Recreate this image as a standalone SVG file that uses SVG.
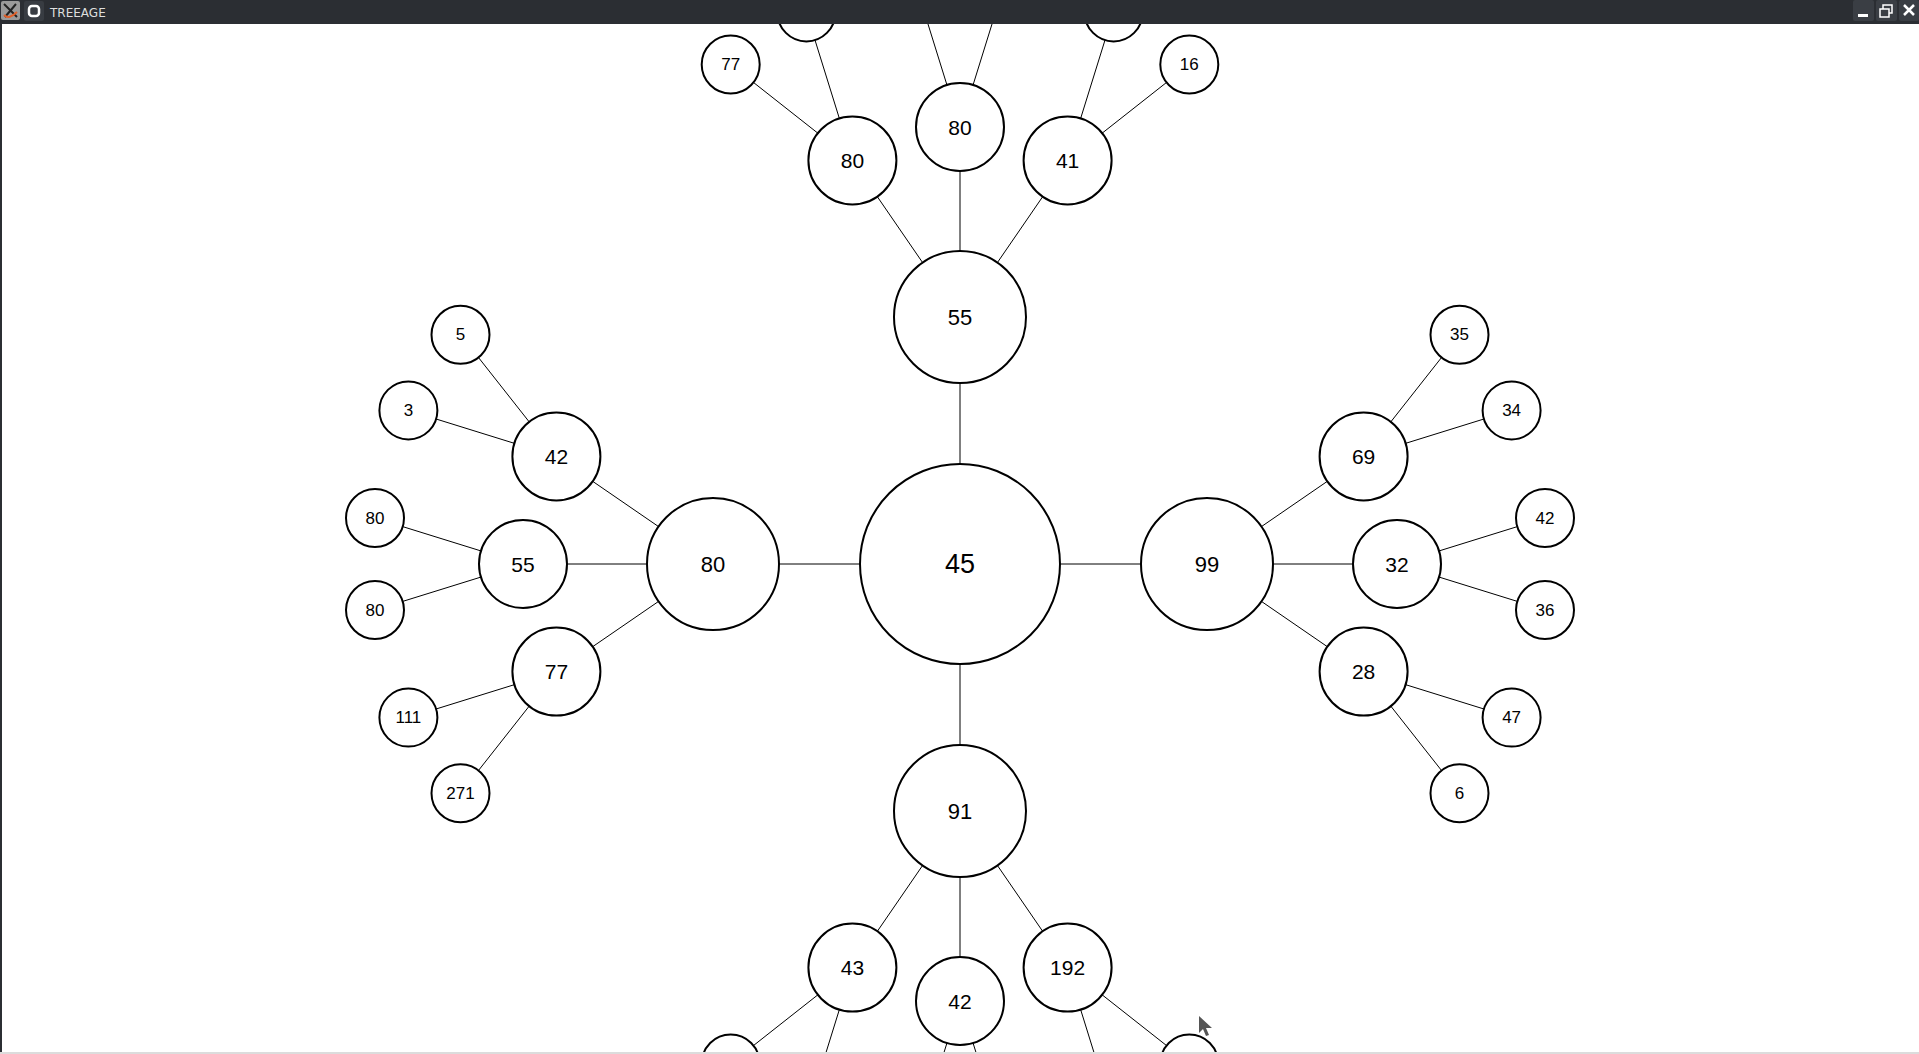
<svg xmlns="http://www.w3.org/2000/svg" width="1919" height="1054" viewBox="0 0 1919 1054">
<style>
.n circle{fill:#fff;stroke:#000;stroke-width:2}
.n text{font-family:"Liberation Sans",Arial,sans-serif;fill:#000;text-anchor:middle;dominant-baseline:central}
.r0 text{font-size:27px}
.r1 text{font-size:22px}
.r2 text{font-size:21px}
.r3 text{font-size:17px}
#edges line{stroke:#000;stroke-width:1}
.btn{fill:#3a3e44}
</style>
<rect x="0" y="0" width="1919" height="1054" fill="#fff"/>
<g id="edges">
<line x1="960" y1="564" x2="960" y2="317"/>
<line x1="960" y1="564" x2="713" y2="564"/>
<line x1="960" y1="564" x2="1207" y2="564"/>
<line x1="960" y1="564" x2="960" y2="811"/>
<line x1="960" y1="317" x2="852.4" y2="160.4"/>
<line x1="960" y1="317" x2="960" y2="127"/>
<line x1="960" y1="317" x2="1067.6" y2="160.4"/>
<line x1="852.4" y1="160.4" x2="730.7" y2="64.5"/>
<line x1="852.4" y1="160.4" x2="806.4" y2="12.4"/>
<line x1="960" y1="127" x2="914" y2="-21"/>
<line x1="960" y1="127" x2="1006" y2="-21"/>
<line x1="1067.6" y1="160.4" x2="1113.6" y2="12.4"/>
<line x1="1067.6" y1="160.4" x2="1189.3" y2="64.5"/>
<line x1="713" y1="564" x2="556.4" y2="456.4"/>
<line x1="713" y1="564" x2="523" y2="564"/>
<line x1="713" y1="564" x2="556.4" y2="671.6"/>
<line x1="556.4" y1="456.4" x2="460.5" y2="334.7"/>
<line x1="556.4" y1="456.4" x2="408.4" y2="410.4"/>
<line x1="523" y1="564" x2="375" y2="518"/>
<line x1="523" y1="564" x2="375" y2="610"/>
<line x1="556.4" y1="671.6" x2="408.4" y2="717.6"/>
<line x1="556.4" y1="671.6" x2="460.5" y2="793.3"/>
<line x1="1207" y1="564" x2="1363.6" y2="456.4"/>
<line x1="1207" y1="564" x2="1397" y2="564"/>
<line x1="1207" y1="564" x2="1363.6" y2="671.6"/>
<line x1="1363.6" y1="456.4" x2="1459.5" y2="334.7"/>
<line x1="1363.6" y1="456.4" x2="1511.6" y2="410.4"/>
<line x1="1397" y1="564" x2="1545" y2="518"/>
<line x1="1397" y1="564" x2="1545" y2="610"/>
<line x1="1363.6" y1="671.6" x2="1511.6" y2="717.6"/>
<line x1="1363.6" y1="671.6" x2="1459.5" y2="793.3"/>
<line x1="960" y1="811" x2="852.4" y2="967.6"/>
<line x1="960" y1="811" x2="960" y2="1001"/>
<line x1="960" y1="811" x2="1067.6" y2="967.6"/>
<line x1="852.4" y1="967.6" x2="730.7" y2="1063.5"/>
<line x1="852.4" y1="967.6" x2="806.4" y2="1115.6"/>
<line x1="960" y1="1001" x2="914" y2="1149"/>
<line x1="960" y1="1001" x2="1006" y2="1149"/>
<line x1="1067.6" y1="967.6" x2="1113.6" y2="1115.6"/>
<line x1="1067.6" y1="967.6" x2="1189.3" y2="1063.5"/>
</g>
<g id="n-root" class="n r0"><circle cx="960" cy="564" r="100"/><text x="960" y="564">45</text></g>
<g id="n-t" class="n r1"><circle cx="960" cy="317" r="66"/><text x="960" y="317">55</text></g>
<g id="n-l" class="n r1"><circle cx="713" cy="564" r="66"/><text x="713" y="564">80</text></g>
<g id="n-r" class="n r1"><circle cx="1207" cy="564" r="66"/><text x="1207" y="564">99</text></g>
<g id="n-b" class="n r1"><circle cx="960" cy="811" r="66"/><text x="960" y="811">91</text></g>
<g id="n-ta" class="n r2"><circle cx="852.4" cy="160.4" r="44"/><text x="852.4" y="160.4">80</text></g>
<g id="n-tb" class="n r2"><circle cx="960" cy="127" r="44"/><text x="960" y="127">80</text></g>
<g id="n-tc" class="n r2"><circle cx="1067.6" cy="160.4" r="44"/><text x="1067.6" y="160.4">41</text></g>
<g id="n-ta1" class="n r3"><circle cx="730.7" cy="64.5" r="29"/><text x="730.7" y="64.5">77</text></g>
<g id="n-ta2" class="n r3"><circle cx="806.4" cy="12.4" r="29"/></g>
<g id="n-tb1" class="n r3"><circle cx="914" cy="-21" r="29"/></g>
<g id="n-tb2" class="n r3"><circle cx="1006" cy="-21" r="29"/></g>
<g id="n-tc1" class="n r3"><circle cx="1113.6" cy="12.4" r="29"/></g>
<g id="n-tc2" class="n r3"><circle cx="1189.3" cy="64.5" r="29"/><text x="1189.3" y="64.5">16</text></g>
<g id="n-la" class="n r2"><circle cx="556.4" cy="456.4" r="44"/><text x="556.4" y="456.4">42</text></g>
<g id="n-lb" class="n r2"><circle cx="523" cy="564" r="44"/><text x="523" y="564">55</text></g>
<g id="n-lc" class="n r2"><circle cx="556.4" cy="671.6" r="44"/><text x="556.4" y="671.6">77</text></g>
<g id="n-la1" class="n r3"><circle cx="460.5" cy="334.7" r="29"/><text x="460.5" y="334.7">5</text></g>
<g id="n-la2" class="n r3"><circle cx="408.4" cy="410.4" r="29"/><text x="408.4" y="410.4">3</text></g>
<g id="n-lb1" class="n r3"><circle cx="375" cy="518" r="29"/><text x="375" y="518">80</text></g>
<g id="n-lb2" class="n r3"><circle cx="375" cy="610" r="29"/><text x="375" y="610">80</text></g>
<g id="n-lc1" class="n r3"><circle cx="408.4" cy="717.6" r="29"/><text x="408.4" y="717.6">111</text></g>
<g id="n-lc2" class="n r3"><circle cx="460.5" cy="793.3" r="29"/><text x="460.5" y="793.3">271</text></g>
<g id="n-ra" class="n r2"><circle cx="1363.6" cy="456.4" r="44"/><text x="1363.6" y="456.4">69</text></g>
<g id="n-rb" class="n r2"><circle cx="1397" cy="564" r="44"/><text x="1397" y="564">32</text></g>
<g id="n-rc" class="n r2"><circle cx="1363.6" cy="671.6" r="44"/><text x="1363.6" y="671.6">28</text></g>
<g id="n-ra1" class="n r3"><circle cx="1459.5" cy="334.7" r="29"/><text x="1459.5" y="334.7">35</text></g>
<g id="n-ra2" class="n r3"><circle cx="1511.6" cy="410.4" r="29"/><text x="1511.6" y="410.4">34</text></g>
<g id="n-rb1" class="n r3"><circle cx="1545" cy="518" r="29"/><text x="1545" y="518">42</text></g>
<g id="n-rb2" class="n r3"><circle cx="1545" cy="610" r="29"/><text x="1545" y="610">36</text></g>
<g id="n-rc1" class="n r3"><circle cx="1511.6" cy="717.6" r="29"/><text x="1511.6" y="717.6">47</text></g>
<g id="n-rc2" class="n r3"><circle cx="1459.5" cy="793.3" r="29"/><text x="1459.5" y="793.3">6</text></g>
<g id="n-ba" class="n r2"><circle cx="852.4" cy="967.6" r="44"/><text x="852.4" y="967.6">43</text></g>
<g id="n-bb" class="n r2"><circle cx="960" cy="1001" r="44"/><text x="960" y="1001">42</text></g>
<g id="n-bc" class="n r2"><circle cx="1067.6" cy="967.6" r="44"/><text x="1067.6" y="967.6">192</text></g>
<g id="n-ba1" class="n r3"><circle cx="730.7" cy="1063.5" r="29"/></g>
<g id="n-ba2" class="n r3"><circle cx="806.4" cy="1115.6" r="29"/></g>
<g id="n-bb1" class="n r3"><circle cx="914" cy="1149" r="29"/></g>
<g id="n-bb2" class="n r3"><circle cx="1006" cy="1149" r="29"/></g>
<g id="n-bc1" class="n r3"><circle cx="1113.6" cy="1115.6" r="29"/></g>
<g id="n-bc2" class="n r3"><circle cx="1189.3" cy="1063.5" r="29"/></g>
<polygon points="1199,1016 1199,1033 1203,1029 1206,1036 1209,1035 1206,1028 1212,1028" fill="#555"/>
<rect x="0" y="1052" width="1919" height="2" fill="#dcdcdc"/>
<rect x="0" y="24" width="2" height="1028" fill="#2b2e33"/>
<g id="titlebar">
<rect x="0" y="0" width="1919" height="24" fill="#2b2e33"/>
<rect x="1" y="1" width="19" height="19" rx="2" fill="#9a9a9a"/>
<path d="M4 4 L17 17 M16 4 L5 17" stroke="#222" stroke-width="2"/>
<path d="M4 15 Q9 20 17 12" stroke="#e0602a" stroke-width="2" fill="none"/>
<rect x="24" y="1" width="20" height="20" rx="2" fill="#383c42"/>
<rect x="29" y="6" width="10" height="10" rx="3" fill="none" stroke="#fff" stroke-width="2.5"/>
<text x="50" y="17" font-family="'DejaVu Sans',sans-serif" font-size="12" fill="#dedede">TREEAGE</text>
<rect class="btn" x="1853" y="0" width="21" height="21" rx="2"/>
<rect x="1858" y="14" width="10" height="3" fill="#fff"/>
<rect class="btn" x="1876" y="0" width="21" height="21" rx="2"/>
<rect x="1883" y="5" width="9" height="8" fill="none" stroke="#fff" stroke-width="1.5"/>
<rect x="1880" y="9" width="9" height="8" fill="#3a3e44" stroke="#fff" stroke-width="1.5"/>
<rect class="btn" x="1899" y="0" width="20" height="21" rx="2"/>
<path d="M1904 5 L1914 15 M1914 5 L1904 15" stroke="#fff" stroke-width="2.5"/>
</g>
</svg>
